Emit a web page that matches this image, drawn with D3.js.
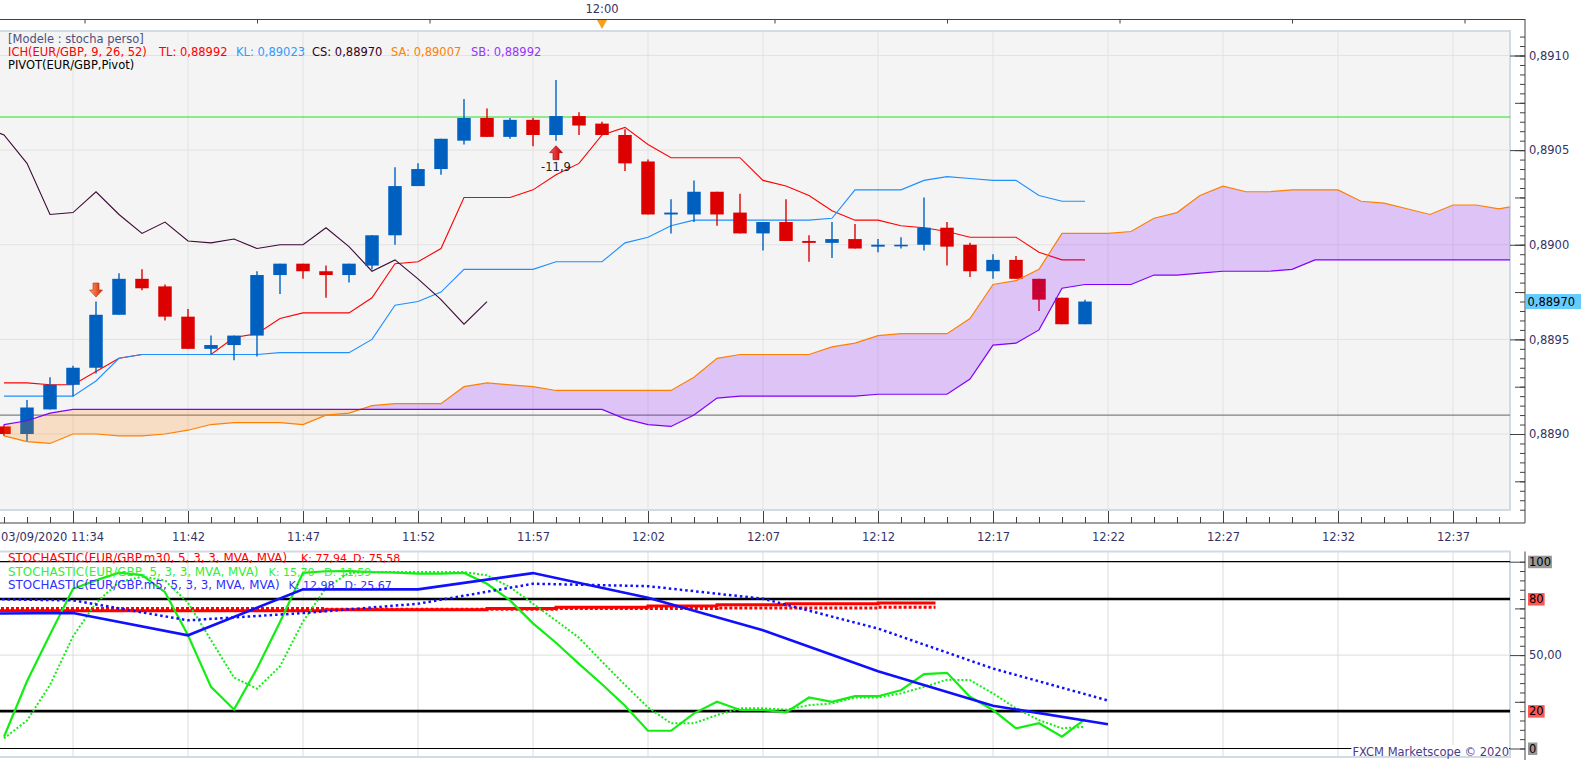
<!DOCTYPE html>
<html>
<head>
<meta charset="utf-8">
<title>EUR/GBP m1 - Ichimoku / Stochastic</title>
<script src="https://d3js.org/d3.v7.min.js"></script>
<style>
  body { margin: 0; background: #fff; }
  svg { display: block; font-family: "DejaVu Sans", Verdana, sans-serif; font-size: 11.5px; }
</style>
</head>
<body>
<svg id="chart" width="1583" height="760"></svg>
<script>
// ---- price candles, one per minute from 11:34 ----
const opens  = [0.88904,0.88900,0.88913,0.88926,0.88935,0.88963,0.88982,0.88978,0.88962,0.88945,
                0.88947,0.88952,0.88984,0.88990,0.88986,0.88984,0.88989,0.89005,0.89031,0.89040,
                0.89055,0.89067,0.89057,0.89066,0.89058,0.89068,0.89064,0.89058,0.89044,0.89016,
                0.89016,0.89028,0.89017,0.89006,0.89012,0.89002,0.89001,0.89003,0.88999,0.89000,
                0.89000,0.89009,0.89000,0.88986,0.88992,0.88982,0.88972,0.88958];
const highs  = [0.88905,0.88918,0.88930,0.88936,0.88970,0.88985,0.88987,0.88979,0.88966,0.88952,
                0.88952,0.88986,0.88990,0.88990,0.88989,0.88990,0.89005,0.89041,0.89043,0.89056,
                0.89077,0.89072,0.89067,0.89067,0.89087,0.89070,0.89065,0.89061,0.89045,0.89024,
                0.89034,0.89028,0.89027,0.89012,0.89024,0.89005,0.89012,0.89011,0.89003,0.89004,
                0.89025,0.89012,0.89001,0.88995,0.88994,0.88982,0.88972,0.88971];
const lows   = [0.88899,0.88896,0.88913,0.88920,0.88932,0.88963,0.88976,0.88960,0.88945,0.88942,
                0.88939,0.88941,0.88974,0.88982,0.88972,0.88980,0.88987,0.89000,0.89031,0.89037,
                0.89053,0.89057,0.89056,0.89052,0.89055,0.89058,0.89058,0.89039,0.89016,0.89006,
                0.89012,0.89010,0.89006,0.88997,0.89002,0.88991,0.88993,0.88998,0.88996,0.88998,
                0.88997,0.88989,0.88983,0.88982,0.88982,0.88965,0.88958,0.88958];
const closes = [0.88900,0.88914,0.88926,0.88935,0.88963,0.88982,0.88977,0.88962,0.88945,0.88947,
                0.88952,0.88984,0.88990,0.88986,0.88984,0.88990,0.89005,0.89031,0.89040,0.89056,
                0.89067,0.89057,0.89066,0.89058,0.89068,0.89063,0.89058,0.89043,0.89016,0.89017,
                0.89028,0.89016,0.89006,0.89012,0.89002,0.89001,0.89003,0.88998,0.89000,0.89000,
                0.89009,0.88999,0.88986,0.88992,0.88982,0.88971,0.88958,0.88970];

// ---- Ichimoku ----
const tenkan = [0.88927,0.88927,0.88926,0.88926,0.88933,0.88940,0.88942,0.88942,0.88942,0.88942,
                0.88951,0.88953,0.88961,0.88964,0.88964,0.88964,0.88972,0.88990,0.88991,0.88998,
                0.89025,0.89025,0.89025,0.89029,0.89037,0.89043,0.89058,0.89062,0.89053,0.89046,
                0.89046,0.89046,0.89046,0.89034,0.89031,0.89026,0.89018,0.89013,0.89013,0.89010,
                0.89009,0.89007,0.89004,0.89004,0.89004,0.88996,0.88992,0.88992];
const kijun  = [0.88920,0.88920,0.88920,0.88920,0.88928,0.88940,0.88942,0.88942,0.88942,0.88942,
                0.88942,0.88942,0.88943,0.88943,0.88943,0.88943,0.88950,0.88968,0.88970,0.88975,
                0.88987,0.88987,0.88987,0.88987,0.88991,0.88991,0.88991,0.89001,0.89004,0.89010,
                0.89013,0.89013,0.89013,0.89013,0.89013,0.89013,0.89014,0.89029,0.89029,0.89029,
                0.89034,0.89036,0.89035,0.89034,0.89034,0.89026,0.89023,0.89023];
// chikou starts one minute before the first candle
const chikouStart = -1;
const chikou = [0.89063,0.89058,0.89043,0.89016,0.89017,0.89028,0.89016,0.89006,0.89012,0.89002,
                0.89001,0.89003,0.88998,0.89000,0.89000,0.89009,0.88999,0.88986,0.88992,0.88982,
                0.88971,0.88958,0.88970];
const senkouA = [0.88899,0.88896,0.88895,0.88900,0.88900,0.88899,0.88899,0.88900,0.88902,0.88905,
                 0.88906,0.88906,0.88906,0.88905,0.88910,0.88911,0.88915,0.88916,0.88916,0.88916,
                 0.88925,0.88927,0.88926,0.88925,0.88923,0.88923,0.88923,0.88923,0.88923,0.88923,
                 0.88930,0.88940,0.88942,0.88942,0.88942,0.88942,0.88946,0.88948,0.88952,0.88953,
                 0.88953,0.88953,0.88961,0.88979,0.88981,0.88987,0.89006,0.89006,0.89006,0.89007,
                 0.89014,0.89017,0.89026,0.89031,0.89028,0.89028,0.89029,0.89029,0.89029,0.89023,
                 0.89022,0.89019,0.89016,0.89021,0.89021,0.89019,0.89021];
const senkouB = [0.88905,0.88907,0.88911,0.88913,0.88913,0.88913,0.88913,0.88913,0.88913,0.88913,
                 0.88913,0.88913,0.88913,0.88913,0.88913,0.88913,0.88913,0.88913,0.88913,0.88913,
                 0.88913,0.88913,0.88913,0.88913,0.88913,0.88913,0.88913,0.88908,0.88905,0.88904,
                 0.88910,0.88919,0.88920,0.88920,0.88920,0.88920,0.88920,0.88920,0.88921,0.88921,
                 0.88921,0.88921,0.88929,0.88947,0.88948,0.88955,0.88977,0.88979,0.88979,0.88979,
                 0.88984,0.88984,0.88985,0.88986,0.88986,0.88986,0.88987,0.88992,0.88992,0.88992,
                 0.88992,0.88992,0.88992,0.88992,0.88992,0.88992,0.88992];

const pivotLevel = 0.890675;
const supportLevel = 0.88910;
const lastPrice = 0.88970;
const signals = [ { i: 4, dir: "down", label: "" }, { i: 24, dir: "up", label: "-11,9" } ];

// ---- Stochastics ----
const stochK = [6.3,36,61,85.5,90,94.1,92.8,83.7,60.6,33,20.9,42.8,67.7,94,94.9,95,94.4,94.1,93.6,93.6,
                94,88.2,79.3,67,56.6,45.3,34.4,22.9,9.5,9.5,18.8,25,20.6,20.6,19.3,27.3,25,28,28,31.2,
                39.8,40.5,27.7,20.6,10.8,13.5,6.3,15.7];
const stochD = [5.4,15,34,60,78,89,92,90,78,58,38,32,44,68,86,94,94.5,94.5,94.5,94.5,
                94.5,92.7,86.4,77.5,68.5,59.3,46.5,34,22,13.5,13.5,17.9,21.5,21.5,20.8,23.2,24.1,27.3,27.3,29.5,
                33,36.8,36.6,29.5,21.5,15.2,10.8,11.6];
const m5Minutes = [-2,3,8,13,18,23,28,33,38,43,48];
const m5K = [72.2,72.5,60.6,85.2,85.2,93.9,80.7,63.3,41.4,22.9,13.0];
const m5D = [80.2,79.3,68.6,72.5,77.5,88.2,86.9,80.2,64.2,42.8,25.7];
const m30KMinutes = [-1,14,21,24,28,31,34,38,40.5];
const m30K = [73.8,74.3,74.9,75.6,76.3,77.0,77.5,77.94,77.94];
const m30DMinutes = [-1,14,24,31,38,40.5];
const m30D = [74.9,74.6,74.9,75.2,75.58,75.58];

// ---- axes ----
const priceTicks = [0.8890,0.8895,0.8900,0.8905,0.8910];
const timeTickMinutes = [3,8,13,18,23,28,33,38,43,48,53,58,63];
const timeTickLabels = ["","11:42","11:47","11:52","11:57","12:02","12:07","12:12","12:17","12:22","12:27","12:32","12:37"];
const firstTimeLabel = "03/09/2020 11:34";
const topMarkMinutes = [3.5,11,18.5,26,33.5,41,48.5,56,63.5];
const topMarkLabel = { m: 26, text: "12:00" };
const stochLabels = [100,80,50,20,0];
const stochLabelText = ["100","80","50,00","20","0"];

const W = 1583, H = 760;
const plot = { left: 0, right: 1510, top: 31, bottom: 510 };
const sub = { top: 551.5, bottom: 757 };
const axisX = 1525, axisY = 523;

const svg = d3.select("#chart");
const defs = svg.append("defs");

const x = d3.scaleLinear().domain([0, 63]).range([4, 1453]);
const y = d3.scaleLinear().domain([0.8890, 0.8910]).range([434, 55.5]);
const ys = d3.scaleLinear().domain([0, 100]).range([748.5, 561.7]);
const fmtPrice = v => d3.format(".4f")(v).replace(".", ",");

defs.append("clipPath").attr("id", "clipTop").append("rect")
  .attr("x", plot.left).attr("y", plot.top).attr("width", plot.right - plot.left).attr("height", plot.bottom - plot.top);
defs.append("clipPath").attr("id", "clipSub").append("rect")
  .attr("x", 0).attr("y", sub.top).attr("width", plot.right).attr("height", sub.bottom - sub.top);

// ===== price panel =====
svg.append("rect").attr("x", -1).attr("y", plot.top).attr("width", plot.right + 1).attr("height", plot.bottom - plot.top)
  .attr("fill", "#f4f4f4").attr("stroke", "#d2dae4").attr("stroke-width", 2);

const gTop = svg.append("g").attr("clip-path", "url(#clipTop)");

gTop.selectAll(".vgrid").data(timeTickMinutes).join("line")
  .attr("x1", d => x(d)).attr("x2", d => x(d)).attr("y1", plot.top).attr("y2", plot.bottom)
  .attr("stroke", "#e2e2e2");
gTop.selectAll(".hgrid").data(priceTicks).join("line")
  .attr("x1", 0).attr("x2", plot.right).attr("y1", d => y(d)).attr("y2", d => y(d))
  .attr("stroke", "#e2e2e2");

gTop.append("line").attr("x1", 0).attr("x2", plot.right).attr("y1", y(pivotLevel)).attr("y2", y(pivotLevel))
  .attr("stroke", "#22e222").attr("stroke-width", 1.2);
gTop.append("line").attr("x1", 0).attr("x2", plot.right).attr("y1", y(supportLevel)).attr("y2", y(supportLevel))
  .attr("stroke", "#808080").attr("stroke-width", 1.2);

const priceLine = d3.line().x((d, i) => x(i)).y(d => y(d));
gTop.append("path").datum(tenkan).attr("d", priceLine).attr("fill", "none").attr("stroke", "#ff0000").attr("stroke-width", 1.1);
gTop.append("path").datum(kijun).attr("d", priceLine).attr("fill", "none").attr("stroke", "#1e8fff").attr("stroke-width", 1.1);
gTop.append("path").datum(chikou).attr("d", d3.line().x((d, i) => x(i + chikouStart)).y(d => y(d)))
  .attr("fill", "none").attr("stroke", "#3d0a35").attr("stroke-width", 1.1);

// candles
const candles = opens.map((o, i) => ({ i, o, h: highs[i], l: lows[i], c: closes[i] }));
const candleColor = d => d.c >= d.o ? "#0060c0" : "#dd0000";
gTop.selectAll(".wick").data(candles).join("line")
  .attr("x1", d => x(d.i)).attr("x2", d => x(d.i)).attr("y1", d => y(d.h)).attr("y2", d => y(d.l))
  .attr("stroke", candleColor).attr("stroke-width", 1.4);
gTop.selectAll(".body").data(candles).join("rect")
  .attr("x", d => x(d.i) - 6.75).attr("width", 13.5)
  .attr("y", d => Math.min(y(d.o), y(d.c)))
  .attr("height", d => Math.max(1.6, Math.abs(y(d.o) - y(d.c))))
  .attr("fill", candleColor);

// cloud (translucent, drawn over candles)
const cloud = senkouA.map((a, i) => ({ i, a, b: senkouB[i] }));
defs.append("clipPath").attr("id", "aboveB").append("path").datum(cloud)
  .attr("d", d3.area().x(d => x(d.i)).y0(0).y1(d => y(d.b)));
defs.append("clipPath").attr("id", "belowB").append("path").datum(cloud)
  .attr("d", d3.area().x(d => x(d.i)).y0(H).y1(d => y(d.b)));
const cloudArea = d3.area().x(d => x(d.i)).y0(d => y(d.b)).y1(d => y(d.a));
gTop.append("g").attr("clip-path", "url(#aboveB)").append("path").datum(cloud).attr("d", cloudArea)
  .attr("fill", "#8000ff").attr("fill-opacity", 0.2);
gTop.append("g").attr("clip-path", "url(#belowB)").append("path").datum(cloud).attr("d", cloudArea)
  .attr("fill", "#ff8000").attr("fill-opacity", 0.2);
gTop.append("path").datum(senkouA).attr("d", priceLine).attr("fill", "none").attr("stroke", "#ff8000").attr("stroke-width", 1.2);
gTop.append("path").datum(senkouB).attr("d", priceLine).attr("fill", "none").attr("stroke", "#8000ff").attr("stroke-width", 1.2);

// signal arrows
const gDown = defs.append("linearGradient").attr("id", "gDown");
gDown.append("stop").attr("offset", "0%").attr("stop-color", "#ffa070");
gDown.append("stop").attr("offset", "100%").attr("stop-color", "#d42000");
const gUp = defs.append("linearGradient").attr("id", "gUp");
gUp.append("stop").attr("offset", "0%").attr("stop-color", "#ff5a5a");
gUp.append("stop").attr("offset", "100%").attr("stop-color", "#c00000");
const arrowPath = "M0,0L-6.5,-7L-3,-7L-3,-14L3,-14L3,-7L6.5,-7Z";
signals.forEach(s => {
  const cx = x(s.i);
  if (s.dir === "down") {
    const tip = y(highs[s.i]) - 4.5;
    gTop.append("path").attr("d", arrowPath).attr("transform", `translate(${cx},${tip})`)
      .attr("fill", "url(#gDown)").attr("stroke", "#b83000").attr("stroke-width", 0.6);
  } else {
    const tip = y(lows[s.i]) + 5;
    gTop.append("path").attr("d", arrowPath).attr("transform", `translate(${cx},${tip}) scale(1,-1)`)
      .attr("fill", "url(#gUp)").attr("stroke", "#a00000").attr("stroke-width", 0.6);
    if (s.label) {
      gTop.append("text").attr("x", cx).attr("y", tip + 25).attr("text-anchor", "middle")
        .attr("fill", "#222").text(s.label);
    }
  }
});

// legend
const legTop = [
  [{ t: "[Modele : stocha perso]", x: 8, c: "#50507a" }],
  [{ t: "ICH(EUR/GBP, 9, 26, 52)", x: 8, c: "#ff0000" }, { t: "TL: 0,88992", x: 159, c: "#ff0000" },
   { t: "KL: 0,89023", x: 236, c: "#3399ff" }, { t: "CS: 0,88970", x: 312, c: "#330022" },
   { t: "SA: 0,89007", x: 391, c: "#ff8000" }, { t: "SB: 0,88992", x: 471, c: "#9933ff" }],
  [{ t: "PIVOT(EUR/GBP,Pivot)", x: 8, c: "#000000" }]
];
const legTopY = [39, 52, 64.5];
legTop.forEach((row, r) => row.forEach(p => {
  svg.append("text").attr("x", p.x).attr("y", legTopY[r] + 4).attr("fill", p.c).text(p.t);
}));

// top time strip
svg.append("line").attr("x1", 0).attr("x2", axisX).attr("y1", 19.5).attr("y2", 19.5).attr("stroke", "#404040");
svg.append("g").attr("transform", "translate(0,19.5)")
  .call(d3.axisBottom(x).tickValues(topMarkMinutes).tickSizeInner(4).tickSizeOuter(0).tickFormat(""))
  .call(g => g.select(".domain").remove())
  .call(g => g.selectAll("line").attr("stroke", "#404040"));
svg.append("text").attr("x", x(topMarkLabel.m)).attr("y", 13).attr("text-anchor", "middle")
  .attr("fill", "#333366").text(topMarkLabel.text);
svg.append("path").attr("d", `M${x(topMarkLabel.m) - 5},20L${x(topMarkLabel.m) + 5},20L${x(topMarkLabel.m)},29Z`)
  .attr("fill", "#f5a020");

// bottom time axis
svg.append("line").attr("x1", 0).attr("x2", axisX).attr("y1", axisY).attr("y2", axisY).attr("stroke", "#404040");
svg.append("g").attr("transform", `translate(0,${axisY})`)
  .call(d3.axisBottom(x).tickValues(d3.range(0, 66)).tickSizeInner(-6).tickSizeOuter(0).tickFormat(""))
  .call(g => g.select(".domain").remove())
  .call(g => g.selectAll("line").attr("stroke", "#404040"));
svg.append("g").attr("transform", `translate(0,${axisY})`)
  .call(d3.axisBottom(x).tickValues(timeTickMinutes).tickSizeInner(-12).tickSizeOuter(0).tickPadding(9.5)
    .tickFormat((d, i) => timeTickLabels[i]))
  .call(g => g.select(".domain").remove())
  .call(g => g.selectAll("line").attr("stroke", "#404040"))
  .call(g => g.selectAll("text").attr("fill", "#333366").attr("font-size", "11.5px").attr("font-family", "DejaVu Sans, Verdana, sans-serif"));
svg.append("text").attr("x", 1).attr("y", 541).attr("fill", "#333366").text(firstTimeLabel);

// right price axis
svg.append("line").attr("x1", axisX).attr("x2", axisX).attr("y1", 19).attr("y2", axisY).attr("stroke", "#404040");
const tickAxis = (scale, vals, size) => g => g
  .call(d3.axisRight(scale).tickValues(vals).tickSizeInner(-size).tickSizeOuter(0).tickFormat(""))
  .call(s => s.select(".domain").remove())
  .call(s => s.selectAll("line").attr("stroke", "#404040"));
svg.append("g").attr("transform", `translate(${axisX},0)`).call(tickAxis(y, d3.range(17772, 17823).map(v => v * 0.00005), 5));
svg.append("g").attr("transform", `translate(${axisX},0)`).call(tickAxis(y, d3.range(3555, 3565).map(v => v * 0.00025), 10));
svg.append("g").attr("transform", `translate(${axisX},0)`)
  .call(d3.axisRight(y).tickValues(priceTicks).tickSizeInner(-15).tickSizeOuter(0).tickPadding(4).tickFormat(fmtPrice))
  .call(g => g.select(".domain").remove())
  .call(g => g.selectAll("line").attr("stroke", "#404040"))
  .call(g => g.selectAll("text").attr("fill", "#333366").attr("font-size", "11.5px").attr("font-family", "DejaVu Sans, Verdana, sans-serif"));
svg.append("rect").attr("x", axisX + 1).attr("y", y(lastPrice) - 7.5).attr("width", 55).attr("height", 15).attr("fill", "#66ccff");
svg.append("text").attr("x", axisX + 2.5).attr("y", y(lastPrice) + 4).attr("fill", "#000").text(d3.format(".5f")(lastPrice).replace(".", ","));

// ===== stochastic panel =====
svg.append("rect").attr("x", -1).attr("y", sub.top).attr("width", plot.right + 1).attr("height", sub.bottom - sub.top)
  .attr("fill", "#ffffff").attr("stroke", "#d2dae4").attr("stroke-width", 2);
const gBot = svg.append("g").attr("clip-path", "url(#clipSub)");
gBot.selectAll(".vgrid").data(timeTickMinutes).join("line")
  .attr("x1", d => x(d)).attr("x2", d => x(d)).attr("y1", sub.top).attr("y2", sub.bottom).attr("stroke", "#dcdcdc");
gBot.append("line").attr("x1", 0).attr("x2", plot.right).attr("y1", ys(50)).attr("y2", ys(50)).attr("stroke", "#dcdcdc");
[[100, 1.2], [80, 2.6], [20, 2.6], [0, 1.2]].forEach(([v, w]) => {
  gBot.append("line").attr("x1", 0).attr("x2", plot.right).attr("y1", ys(v)).attr("y2", ys(v))
    .attr("stroke", "#000").attr("stroke-width", w);
});

const stepLine = (mins) => d3.line().curve(d3.curveStepAfter).x((d, i) => x(mins[i])).y(d => ys(d));
const minLine = (mins) => d3.line().x((d, i) => x(mins[i])).y(d => ys(d));
const idxLine = d3.line().x((d, i) => x(i)).y(d => ys(d));

gBot.append("path").datum(m30D).attr("d", stepLine(m30DMinutes)).attr("fill", "none")
  .attr("stroke", "#ff0000").attr("stroke-width", 3).attr("stroke-dasharray", "3,2");
gBot.append("path").datum(m30K).attr("d", stepLine(m30KMinutes)).attr("fill", "none")
  .attr("stroke", "#ff0000").attr("stroke-width", 3);
gBot.append("path").datum(stochD).attr("d", idxLine).attr("fill", "none")
  .attr("stroke", "#11ee11").attr("stroke-width", 2).attr("stroke-dasharray", "2,2");
gBot.append("path").datum(stochK).attr("d", idxLine).attr("fill", "none")
  .attr("stroke", "#11ee11").attr("stroke-width", 2.2);
gBot.append("path").datum(m5D).attr("d", minLine(m5Minutes)).attr("fill", "none")
  .attr("stroke", "#1010ff").attr("stroke-width", 2.5).attr("stroke-dasharray", "2.5,3");
gBot.append("path").datum(m5K).attr("d", minLine(m5Minutes)).attr("fill", "none")
  .attr("stroke", "#1010ff").attr("stroke-width", 2.6);

const legSub = [
  { y: 558, c: "#ff0000", parts: [["STOCHASTIC(EUR/GBP.m30, 5, 3, 3, MVA, MVA)", 8], ["K: 77,94", 301], ["D: 75,58", 353]] },
  { y: 571.5, c: "#33ee33", parts: [["STOCHASTIC(EUR/GBP, 5, 3, 3, MVA, MVA)", 8], ["K: 15,70", 268.6], ["D: 11,59", 324]] },
  { y: 585, c: "#2f2fff", parts: [["STOCHASTIC(EUR/GBP.m5, 5, 3, 3, MVA, MVA)", 8], ["K: 12,98", 288.6], ["D: 25,67", 344.6]] }
];
legSub.forEach(r => r.parts.forEach(([t, px], j) => {
  svg.append("text").attr("x", px).attr("y", r.y + 4).attr("fill", r.c)
    .attr("font-size", j === 0 ? "11.9px" : "11px").text(t);
}));

// copyright
const cpBg = svg.append("rect").attr("fill", "#fff");
const cp = svg.append("text").attr("x", plot.right - 1).attr("y", 755.5).attr("text-anchor", "end")
  .attr("fill", "#4a3a8a").text("FXCM Marketscope \u00a9 2020");
const cpW = cp.node().getComputedTextLength();
cpBg.attr("x", plot.right - 2 - cpW).attr("y", 745).attr("width", cpW + 1).attr("height", 11);

// right stochastic axis
svg.append("line").attr("x1", axisX).attr("x2", axisX).attr("y1", sub.top).attr("y2", H).attr("stroke", "#404040");
svg.append("g").attr("transform", `translate(${axisX},0)`).call(tickAxis(ys, d3.range(0, 101, 5), 5));
svg.append("g").attr("transform", `translate(${axisX},0)`).call(tickAxis(ys, [25, 75], 10));
svg.append("g").attr("transform", `translate(${axisX},0)`).call(tickAxis(ys, [0, 50, 100], 15));
const levelBg = { 100: "#999999", 80: "#ff5555", 20: "#ff5555", 0: "#999999" };
stochLabels.forEach((v, i) => {
  const bg = svg.append("rect");
  const t = svg.append("text").attr("x", axisX + 4).attr("y", ys(v) + 4)
    .attr("fill", levelBg[v] ? "#000" : "#333366").text(stochLabelText[i]);
  if (levelBg[v]) {
    const w = t.node().getComputedTextLength();
    bg.attr("x", axisX + 3).attr("y", ys(v) - 6).attr("width", w + 2).attr("height", 12.5).attr("fill", levelBg[v]);
  } else {
    bg.remove();
  }
});
</script>
</body>
</html>
